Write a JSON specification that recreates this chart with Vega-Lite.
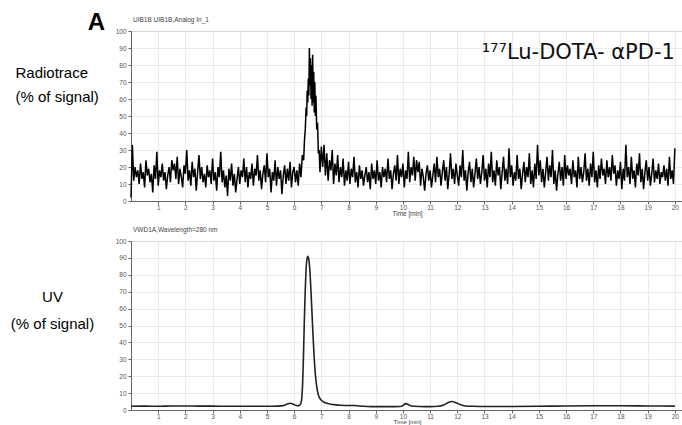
{
"$schema": "https://vega.github.io/schema/vega-lite/v6.json",
"padding": {"left": 9, "top": 11, "right": 0, "bottom": 0},
"background": "white",
"title": {"text": "A", "anchor": "start", "fontSize": 24, "fontWeight": "bold", "font": "Liberation Sans", "color": "#000", "offset": -19, "dx": 78},
"spacing": 8,
"vconcat": [
{
"width": 552, "height": 170,
"title": {"text": "UIB1B UIB1B,Analog In_1", "anchor": "start", "frame": "group", "fontSize": 6.5, "fontWeight": "normal", "color": "#444", "offset": 5, "dx": 2},
"layer": [
{
"data": {"values": [
{"t":0,"v":2},{"t":0.05,"v":33},{"t":0.1,"v":12},{"t":0.15,"v":20},{"t":0.2,"v":14},{"t":0.25,"v":18},{"t":0.3,"v":10},{"t":0.35,"v":22},{"t":0.4,"v":13},{"t":0.45,"v":17},{"t":0.5,"v":8},{"t":0.55,"v":24},{"t":0.6,"v":15},{"t":0.65,"v":19},{"t":0.7,"v":11},{"t":0.75,"v":16},{"t":0.8,"v":5},{"t":0.85,"v":21},{"t":0.9,"v":13},{"t":0.95,"v":29},
{"t":1,"v":9},{"t":1.05,"v":18},{"t":1.1,"v":14},{"t":1.15,"v":22},{"t":1.2,"v":12},{"t":1.25,"v":17},{"t":1.3,"v":7},{"t":1.35,"v":15},{"t":1.4,"v":20},{"t":1.45,"v":11},{"t":1.5,"v":24},{"t":1.55,"v":18},{"t":1.6,"v":22},{"t":1.65,"v":13},{"t":1.7,"v":26},{"t":1.75,"v":10},{"t":1.8,"v":19},{"t":1.85,"v":14},{"t":1.9,"v":8},{"t":1.95,"v":21},
{"t":2,"v":16},{"t":2.05,"v":30},{"t":2.1,"v":12},{"t":2.15,"v":18},{"t":2.2,"v":9},{"t":2.25,"v":23},{"t":2.3,"v":14},{"t":2.35,"v":19},{"t":2.4,"v":6},{"t":2.45,"v":17},{"t":2.5,"v":27},{"t":2.55,"v":13},{"t":2.6,"v":20},{"t":2.65,"v":11},{"t":2.7,"v":16},{"t":2.75,"v":8},{"t":2.8,"v":21},{"t":2.85,"v":14},{"t":2.9,"v":18},{"t":2.95,"v":10},
{"t":3,"v":25},{"t":3.05,"v":12},{"t":3.1,"v":17},{"t":3.15,"v":6},{"t":3.2,"v":20},{"t":3.25,"v":14},{"t":3.3,"v":29},{"t":3.35,"v":11},{"t":3.4,"v":18},{"t":3.45,"v":8},{"t":3.5,"v":15},{"t":3.55,"v":3},{"t":3.6,"v":19},{"t":3.65,"v":12},{"t":3.7,"v":22},{"t":3.75,"v":9},{"t":3.8,"v":16},{"t":3.85,"v":5},{"t":3.9,"v":13},{"t":3.95,"v":20},
{"t":4,"v":10},{"t":4.05,"v":18},{"t":4.1,"v":14},{"t":4.15,"v":25},{"t":4.2,"v":11},{"t":4.25,"v":20},{"t":4.3,"v":8},{"t":4.35,"v":17},{"t":4.4,"v":13},{"t":4.45,"v":22},{"t":4.5,"v":9},{"t":4.55,"v":19},{"t":4.6,"v":15},{"t":4.65,"v":27},{"t":4.7,"v":12},{"t":4.75,"v":18},{"t":4.8,"v":7},{"t":4.85,"v":16},{"t":4.9,"v":21},{"t":4.95,"v":11},
{"t":5,"v":28},{"t":5.05,"v":14},{"t":5.1,"v":19},{"t":5.15,"v":5},{"t":5.2,"v":17},{"t":5.25,"v":12},{"t":5.3,"v":24},{"t":5.35,"v":9},{"t":5.4,"v":20},{"t":5.45,"v":13},{"t":5.5,"v":18},{"t":5.55,"v":4},{"t":5.6,"v":15},{"t":5.65,"v":21},{"t":5.7,"v":10},{"t":5.75,"v":19},{"t":5.8,"v":12},{"t":5.85,"v":23},{"t":5.9,"v":8},{"t":5.95,"v":17},
{"t":6,"v":20},{"t":6.05,"v":11},{"t":6.1,"v":18},{"t":6.15,"v":9},{"t":6.2,"v":22},{"t":6.25,"v":14},{"t":6.3,"v":27},{"t":6.35,"v":24},{"t":6.38,"v":36},{"t":6.41,"v":42},{"t":6.44,"v":55},{"t":6.46,"v":50},{"t":6.48,"v":65},{"t":6.5,"v":58},{"t":6.52,"v":72},{"t":6.54,"v":62},{"t":6.56,"v":90},{"t":6.58,"v":68},{"t":6.6,"v":84},{"t":6.62,"v":60},{"t":6.64,"v":80},{"t":6.66,"v":56},{"t":6.68,"v":86},{"t":6.7,"v":58},{"t":6.72,"v":76},{"t":6.74,"v":52},{"t":6.76,"v":70},{"t":6.78,"v":50},{"t":6.8,"v":62},{"t":6.83,"v":42},{"t":6.86,"v":46},{"t":6.89,"v":28},{"t":6.92,"v":30},{"t":6.95,"v":17},
{"t":7,"v":32},{"t":7.05,"v":20},{"t":7.1,"v":33},{"t":7.15,"v":15},{"t":7.2,"v":28},{"t":7.25,"v":12},{"t":7.3,"v":24},{"t":7.35,"v":18},{"t":7.4,"v":30},{"t":7.45,"v":10},{"t":7.5,"v":22},{"t":7.55,"v":15},{"t":7.6,"v":27},{"t":7.65,"v":11},{"t":7.7,"v":20},{"t":7.75,"v":14},{"t":7.8,"v":25},{"t":7.85,"v":9},{"t":7.9,"v":18},{"t":7.95,"v":12},
{"t":8,"v":23},{"t":8.05,"v":10},{"t":8.1,"v":19},{"t":8.15,"v":14},{"t":8.2,"v":26},{"t":8.25,"v":11},{"t":8.3,"v":17},{"t":8.35,"v":8},{"t":8.4,"v":21},{"t":8.45,"v":13},{"t":8.5,"v":18},{"t":8.55,"v":9},{"t":8.6,"v":15},{"t":8.65,"v":20},{"t":8.7,"v":11},{"t":8.75,"v":17},{"t":8.8,"v":7},{"t":8.85,"v":22},{"t":8.9,"v":13},{"t":8.95,"v":18},
{"t":9,"v":10},{"t":9.05,"v":24},{"t":9.1,"v":12},{"t":9.15,"v":17},{"t":9.2,"v":8},{"t":9.25,"v":20},{"t":9.3,"v":14},{"t":9.35,"v":19},{"t":9.4,"v":11},{"t":9.45,"v":25},{"t":9.5,"v":13},{"t":9.55,"v":18},{"t":9.6,"v":7},{"t":9.65,"v":16},{"t":9.7,"v":21},{"t":9.75,"v":12},{"t":9.8,"v":27},{"t":9.85,"v":10},{"t":9.9,"v":19},{"t":9.95,"v":14},
{"t":10,"v":22},{"t":10.05,"v":8},{"t":10.1,"v":18},{"t":10.15,"v":13},{"t":10.2,"v":29},{"t":10.25,"v":11},{"t":10.3,"v":20},{"t":10.35,"v":15},{"t":10.4,"v":26},{"t":10.45,"v":12},{"t":10.5,"v":24},{"t":10.55,"v":17},{"t":10.6,"v":23},{"t":10.65,"v":9},{"t":10.7,"v":19},{"t":10.75,"v":14},{"t":10.8,"v":6},{"t":10.85,"v":16},{"t":10.9,"v":21},{"t":10.95,"v":12},
{"t":11,"v":18},{"t":11.05,"v":8},{"t":11.1,"v":15},{"t":11.15,"v":22},{"t":11.2,"v":11},{"t":11.25,"v":26},{"t":11.3,"v":14},{"t":11.35,"v":19},{"t":11.4,"v":9},{"t":11.45,"v":17},{"t":11.5,"v":24},{"t":11.55,"v":12},{"t":11.6,"v":20},{"t":11.65,"v":7},{"t":11.7,"v":16},{"t":11.75,"v":28},{"t":11.8,"v":13},{"t":11.85,"v":19},{"t":11.9,"v":10},{"t":11.95,"v":22},
{"t":12,"v":15},{"t":12.05,"v":9},{"t":12.1,"v":21},{"t":12.15,"v":14},{"t":12.2,"v":30},{"t":12.25,"v":12},{"t":12.3,"v":18},{"t":12.35,"v":6},{"t":12.4,"v":17},{"t":12.45,"v":23},{"t":12.5,"v":11},{"t":12.55,"v":19},{"t":12.6,"v":8},{"t":12.65,"v":16},{"t":12.7,"v":25},{"t":12.75,"v":13},{"t":12.8,"v":20},{"t":12.85,"v":10},{"t":12.9,"v":17},{"t":12.95,"v":27},
{"t":13,"v":12},{"t":13.05,"v":19},{"t":13.1,"v":8},{"t":13.15,"v":22},{"t":13.2,"v":14},{"t":13.25,"v":29},{"t":13.3,"v":11},{"t":13.35,"v":18},{"t":13.4,"v":9},{"t":13.45,"v":24},{"t":13.5,"v":15},{"t":13.55,"v":20},{"t":13.6,"v":7},{"t":13.65,"v":17},{"t":13.7,"v":26},{"t":13.75,"v":12},{"t":13.8,"v":19},{"t":13.85,"v":10},{"t":13.9,"v":31},{"t":13.95,"v":14},
{"t":14,"v":21},{"t":14.05,"v":9},{"t":14.1,"v":17},{"t":14.15,"v":12},{"t":14.2,"v":27},{"t":14.25,"v":13},{"t":14.3,"v":19},{"t":14.35,"v":7},{"t":14.4,"v":16},{"t":14.45,"v":23},{"t":14.5,"v":11},{"t":14.55,"v":20},{"t":14.6,"v":14},{"t":14.65,"v":28},{"t":14.7,"v":10},{"t":14.75,"v":18},{"t":14.8,"v":8},{"t":14.85,"v":22},{"t":14.9,"v":13},{"t":14.95,"v":33},
{"t":15,"v":15},{"t":15.05,"v":24},{"t":15.1,"v":11},{"t":15.15,"v":19},{"t":15.2,"v":8},{"t":15.25,"v":17},{"t":15.3,"v":26},{"t":15.35,"v":12},{"t":15.4,"v":21},{"t":15.45,"v":14},{"t":15.5,"v":30},{"t":15.55,"v":10},{"t":15.6,"v":18},{"t":15.65,"v":6},{"t":15.7,"v":16},{"t":15.75,"v":23},{"t":15.8,"v":12},{"t":15.85,"v":20},{"t":15.9,"v":9},{"t":15.95,"v":27},
{"t":16,"v":13},{"t":16.05,"v":21},{"t":16.1,"v":15},{"t":16.15,"v":19},{"t":16.2,"v":10},{"t":16.25,"v":24},{"t":16.3,"v":14},{"t":16.35,"v":18},{"t":16.4,"v":8},{"t":16.45,"v":26},{"t":16.5,"v":13},{"t":16.55,"v":20},{"t":16.6,"v":11},{"t":16.65,"v":17},{"t":16.7,"v":28},{"t":16.75,"v":12},{"t":16.8,"v":19},{"t":16.85,"v":9},{"t":16.9,"v":22},{"t":16.95,"v":14},
{"t":17,"v":29},{"t":17.05,"v":11},{"t":17.1,"v":18},{"t":17.15,"v":8},{"t":17.2,"v":21},{"t":17.25,"v":13},{"t":17.3,"v":25},{"t":17.35,"v":15},{"t":17.4,"v":19},{"t":17.45,"v":10},{"t":17.5,"v":24},{"t":17.55,"v":14},{"t":17.6,"v":20},{"t":17.65,"v":12},{"t":17.7,"v":27},{"t":17.75,"v":16},{"t":17.8,"v":21},{"t":17.85,"v":9},{"t":17.9,"v":18},{"t":17.95,"v":13},
{"t":18,"v":23},{"t":18.05,"v":7},{"t":18.1,"v":19},{"t":18.15,"v":12},{"t":18.2,"v":33},{"t":18.25,"v":14},{"t":18.3,"v":20},{"t":18.35,"v":10},{"t":18.4,"v":26},{"t":18.45,"v":13},{"t":18.5,"v":18},{"t":18.55,"v":8},{"t":18.6,"v":22},{"t":18.65,"v":15},{"t":18.7,"v":28},{"t":18.75,"v":11},{"t":18.8,"v":19},{"t":18.85,"v":7},{"t":18.9,"v":17},{"t":18.95,"v":24},
{"t":19,"v":12},{"t":19.05,"v":20},{"t":19.1,"v":9},{"t":19.15,"v":16},{"t":19.2,"v":25},{"t":19.25,"v":11},{"t":19.3,"v":18},{"t":19.35,"v":13},{"t":19.4,"v":22},{"t":19.45,"v":10},{"t":19.5,"v":17},{"t":19.55,"v":14},{"t":19.6,"v":21},{"t":19.65,"v":12},{"t":19.7,"v":19},{"t":19.75,"v":9},{"t":19.8,"v":26},{"t":19.85,"v":13},{"t":19.9,"v":18},{"t":19.95,"v":10},
{"t":20,"v":31}
]},
"mark": {"type": "line", "color": "#000", "strokeWidth": 1.5},
"encoding": {
"x": {"field": "t", "type": "quantitative", "scale": {"domain": [0, 20.3], "nice": false}, "axis": {"values": [1,2,3,4,5,6,7,8,9,10,11,12,13,14,15,16,17,18,19,20], "labelOverlap": false, "title": "Time [min]"}},
"y": {"field": "v", "type": "quantitative", "scale": {"domain": [0, 100], "nice": false}, "axis": {"values": [0,10,20,30,40,50,60,70,80,90,100], "labelOverlap": false, "title": ["Radiotrace", "(% of signal)"], "titleAngle": 0, "titleAlign": "left", "titleBaseline": "alphabetic", "titleX": -116, "titleY": 46, "titleFontSize": 15, "titleColor": "#000", "titleLineHeight": 24}}
}
},
{
"data": {"values": [{"label": "¹⁷⁷Lu-DOTA- αPD-1"}]},
"mark": {"type": "text", "align": "right", "baseline": "middle", "fontSize": 21, "font": "DejaVu Sans", "color": "#111"},
"encoding": {
"x": {"datum": 20, "type": "quantitative", "axis": {"values": [1,2,3,4,5,6,7,8,9,10,11,12,13,14,15,16,17,18,19,20], "labelOverlap": false, "title": "Time [min]"}},
"y": {"datum": 87, "type": "quantitative", "axis": {"values": [0,10,20,30,40,50,60,70,80,90,100], "labelOverlap": false, "title": ["Radiotrace", "(% of signal)"], "titleAngle": 0, "titleAlign": "left", "titleBaseline": "alphabetic", "titleX": -116, "titleY": 46, "titleFontSize": 15, "titleColor": "#000", "titleLineHeight": 24}},
"text": {"field": "label"}}
}
]
},
{
"width": 552, "height": 169,
"title": {"text": "VWD1A,Wavelength=280 nm", "anchor": "start", "frame": "group", "fontSize": 6.5, "fontWeight": "normal", "color": "#444", "offset": 5, "dx": 2},
"data": {"values": [
{"t":0,"v":2.2},{"t":0.5,"v":2.3},{"t":1,"v":2.2},{"t":1.5,"v":2.4},{"t":2,"v":2.4},{"t":2.5,"v":2.3},{"t":3,"v":2.3},{"t":3.5,"v":2.2},{"t":4,"v":2.2},{"t":4.5,"v":2.2},{"t":5,"v":2.2},{"t":5.4,"v":2.3},{"t":5.6,"v":2.6},{"t":5.75,"v":3.5},{"t":5.85,"v":4.0},{"t":5.95,"v":3.6},{"t":6.05,"v":2.8},{"t":6.12,"v":2.5},{"t":6.2,"v":2.8},{"t":6.25,"v":4},{"t":6.28,"v":7},{"t":6.31,"v":15},{"t":6.34,"v":30},{"t":6.37,"v":50},{"t":6.4,"v":67},{"t":6.43,"v":80},{"t":6.46,"v":88},{"t":6.5,"v":91},{"t":6.54,"v":89},{"t":6.58,"v":82},{"t":6.62,"v":70},{"t":6.66,"v":56},{"t":6.7,"v":42},{"t":6.74,"v":30},{"t":6.78,"v":21},{"t":6.82,"v":15},{"t":6.86,"v":11},{"t":6.9,"v":8.5},{"t":6.95,"v":6.8},{"t":7,"v":5.8},{"t":7.1,"v":4.6},{"t":7.2,"v":4},{"t":7.35,"v":3.4},{"t":7.5,"v":3.1},{"t":7.7,"v":2.8},{"t":8,"v":2.7},{"t":8.2,"v":2.7},{"t":8.4,"v":2.4},{"t":8.7,"v":2.1},{"t":9,"v":2.0},{"t":9.5,"v":2.0},{"t":9.9,"v":2.1},{"t":10,"v":2.6},{"t":10.1,"v":3.8},{"t":10.2,"v":3.2},{"t":10.3,"v":2.4},{"t":10.6,"v":2.1},{"t":11,"v":2.0},{"t":11.3,"v":2.2},{"t":11.5,"v":3.0},{"t":11.65,"v":4.3},{"t":11.8,"v":5.0},{"t":11.95,"v":4.3},{"t":12.1,"v":3.2},{"t":12.3,"v":2.4},{"t":12.6,"v":2.2},{"t":13,"v":2.1},{"t":14,"v":2.1},{"t":15,"v":2.2},{"t":16,"v":2.4},{"t":17,"v":2.5},{"t":18,"v":2.5},{"t":19,"v":2.4},{"t":20,"v":2.3}
]},
"mark": {"type": "line", "color": "#222", "strokeWidth": 1.6, "interpolate": "monotone"},
"encoding": {
"x": {"field": "t", "type": "quantitative", "scale": {"domain": [0, 20.3], "nice": false}, "axis": {"values": [1,2,3,4,5,6,7,8,9,10,11,12,13,14,15,16,17,18,19,20], "labelOverlap": false, "title": "Time [min]", "titleFontSize": 6, "titlePadding": -1}},
"y": {"field": "v", "type": "quantitative", "scale": {"domain": [0, 100], "nice": false}, "axis": {"values": [0,10,20,30,40,50,60,70,80,90,100], "labelOverlap": false, "title": ["UV", "(% of signal)"], "titleAngle": 0, "titleAlign": "center", "titleBaseline": "alphabetic", "titleX": -79, "titleY": 60, "titleFontSize": 15, "titleColor": "#000", "titleLineHeight": 27}}
}
}
],
"config": {
"font": "Liberation Sans",
"view": {"stroke": "#9a9a9a", "strokeWidth": 1},
"axis": {"labelFontSize": 6.5, "labelColor": "#555", "labelFont": "Liberation Sans", "labelOverlap": false, "tickColor": "#666", "tickSize": 3, "domainColor": "#666", "gridColor": "#e6e6e6", "gridWidth": 0.8, "titleFontSize": 6.5, "titleFontWeight": "normal", "titleColor": "#444", "titleFont": "Liberation Sans"},
"axisX": {"labelPadding": 0, "titlePadding": 0, "labelFlush": false},
"axisY": {"labelPadding": 2}
}
}
